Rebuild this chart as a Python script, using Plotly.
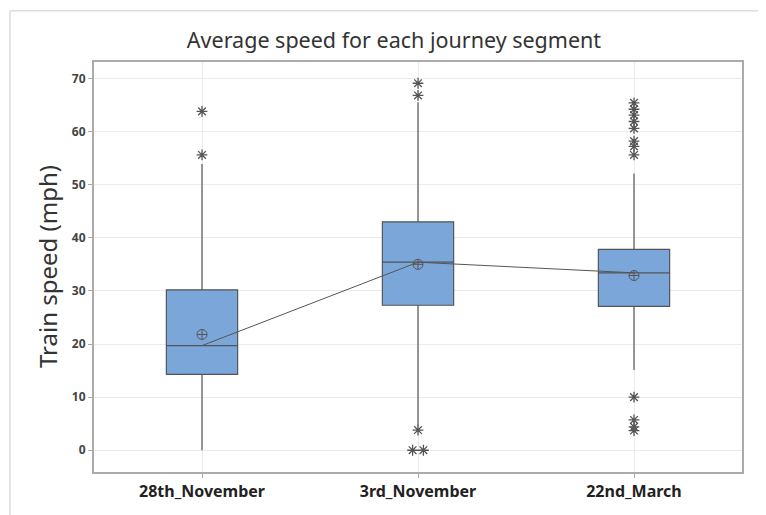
import plotly.graph_objects as go

# ---- data ----
categories = ["28th_November", "3rd_November", "22nd_March"]
q1 = [14.3, 27.3, 27.1]
medians = [19.7, 35.4, 33.4]
q3 = [30.2, 43.0, 37.8]
lower_whisker = [0.0, 4.6, 15.1]
upper_whisker = [53.9, 65.5, 52.1]
means = [21.8, 35.0, 32.9]
outliers_28th_november = [63.8, 55.6]
outliers_3rd_november = [69.1, 66.8, 3.8, 0.0, 0.0]
outliers_22nd_march = [65.4, 64.2, 63.1, 61.9, 60.6, 58.2, 57.2, 55.6, 10.0, 5.7, 4.4, 3.7]
y_ticks = [0, 10, 20, 30, 40, 50, 60, 70]

outlier_groups = [outliers_28th_november, outliers_3rd_november, outliers_22nd_march]
positions = list(range(len(categories)))

GRAY = "#555555"
FONT = "Noto Sans"
W, H = 758, 507  # page body has an 8px default margin

fig = go.Figure()

fig.add_trace(go.Box(
    x=positions, q1=q1, median=medians, q3=q3,
    lowerfence=lower_whisker, upperfence=upper_whisker,
    width=0.33, whiskerwidth=0,
    fillcolor="#7BA6DA", line=dict(color=GRAY, width=1.2),
    boxpoints=False, showlegend=False, hoverinfo="skip",
))

# median connect line
fig.add_trace(go.Scatter(
    x=positions, y=medians, mode="lines",
    line=dict(color=GRAY, width=1), showlegend=False, hoverinfo="skip",
))

# mean symbols
fig.add_trace(go.Scatter(
    x=positions, y=means, mode="markers",
    marker=dict(symbol="circle-cross-open", size=10, color=GRAY, line=dict(width=1)),
    showlegend=False, hoverinfo="skip",
))

# outliers (duplicated values are spread sideways as Minitab does)
ox, oy = [], []
for pos, vals in zip(positions, outlier_groups):
    seen = {}
    for v in vals:
        seen[v] = seen.get(v, 0) + 1
    for v, n in seen.items():
        for k in range(n):
            off = (k - (n - 1) / 2) * 0.05
            ox.append(pos + off)
            oy.append(v)
fig.add_trace(go.Scatter(
    x=ox, y=oy, mode="markers",
    marker=dict(symbol="asterisk-open", size=9, color=GRAY, line=dict(width=1.3, color=GRAY)),
    showlegend=False, hoverinfo="skip",
))

# page frame lines (from the screenshot)
frame = dict(color="#dddddd", width=1.5)
fig.add_shape(type="line", xref="paper", yref="paper", x0=-0.1296, x1=1.04, y0=1.125, y1=1.125, line=frame)
fig.add_shape(type="line", xref="paper", yref="paper", x0=-0.1296, x1=-0.1296, y0=1.125, y1=-0.11, line=frame)

fig.add_annotation(
    text="Train speed (mph)", xref="paper", yref="paper",
    x=-0.0725, y=0.5, xanchor="center", yanchor="middle", textangle=-90,
    showarrow=False, font=dict(family=FONT, size=24, color="#333333"),
)

fig.update_layout(
    width=W, height=H,
    margin=dict(l=86, r=24, t=54, b=43),
    paper_bgcolor="white", plot_bgcolor="white",
    title=dict(text="Average speed for each journey segment", x=(394 - 8) / W, xanchor="center",
               y=1 - 32 / H, yanchor="middle",
               font=dict(family=FONT, size=21.5, color="#333333")),
    xaxis=dict(range=[-0.5, 2.5], tickvals=positions, ticktext=categories,
               showgrid=True, gridcolor="#ebebeb", gridwidth=1, zeroline=False,
               showline=True, mirror=True, linecolor="#ababab", linewidth=2,
               ticks="outside", ticklen=4, tickcolor="#ababab",
               tickfont=dict(family=FONT, size=16, color="#222222", weight="bold")),
    yaxis=dict(range=[-4.1, 73.1], tickvals=y_ticks,
               showgrid=True, gridcolor="#ebebeb", gridwidth=1, zeroline=False,
               showline=True, mirror=True, linecolor="#ababab", linewidth=2,
               ticks="outside", ticklen=4, tickcolor="#ababab",
               tickfont=dict(family=FONT, size=12, color="#444444", weight="bold")),
)

fig.write_html("out.html")
